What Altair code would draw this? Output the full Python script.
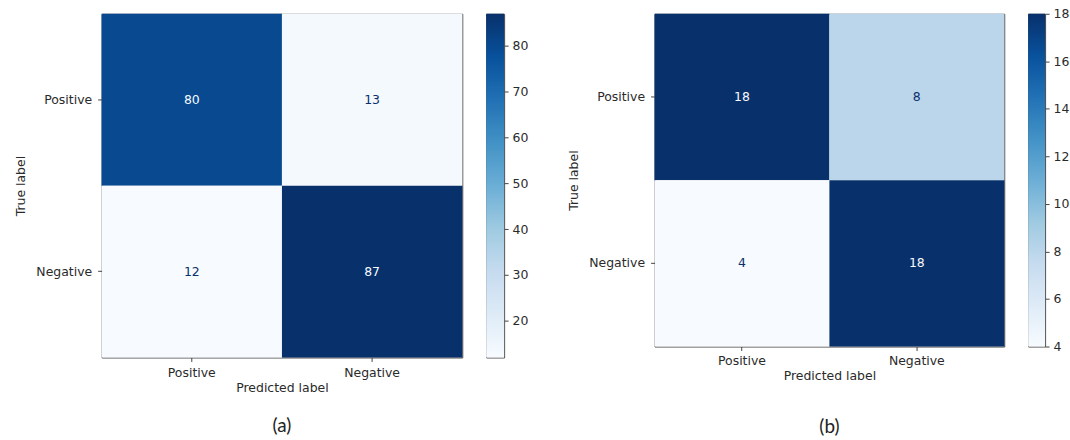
import altair as alt
import pandas as pd

classes = ["Positive", "Negative"]
cm_a = [[80, 13], [12, 87]]
cm_b = [[18, 8], [4, 18]]
cbar_a_ticks = [20, 30, 40, 50, 60, 70, 80]
cbar_b_ticks = [4, 6, 8, 10, 12, 14, 16, 18]
range_a = [12, 87]
range_b = [4, 18]
blues = ["#f7fbff", "#deebf7", "#c6dbef", "#9ecae1", "#6baed6",
         "#4292c6", "#2171b5", "#08519c", "#08306b"]

FONT = "DejaVu Sans"
FS = 12.5
TXT = "#2a2a2a"


def cm_frame(cm):
    rows = []
    for i, t in enumerate(classes):
        for j, p in enumerate(classes):
            rows.append({"true": t, "pred": p, "value": cm[i][j]})
    return pd.DataFrame(rows)


def stops(dom):
    n = len(blues) - 1
    return [dom[0] + (dom[1] - dom[0]) * i / n for i in range(n + 1)]


def heatmap(cm, dom, caption, w, h, cap_offset, xpad):
    df = cm_frame(cm)
    thr = (dom[0] + dom[1]) / 2
    base = alt.Chart(df).encode(
        x=alt.X("pred:N", sort=classes, scale=alt.Scale(paddingInner=0, paddingOuter=0),
                axis=alt.Axis(title="Predicted label", labelAngle=0, tickSize=4,
                              labelPadding=xpad, titlePadding=3, domain=False)),
        y=alt.Y("true:N", sort=classes, scale=alt.Scale(paddingInner=0, paddingOuter=0),
                axis=alt.Axis(title="True label", tickSize=4, labelPadding=6,
                              titlePadding=8, domain=False)),
    )
    rect = base.mark_rect().encode(
        color=alt.Color("value:Q", scale=alt.Scale(domain=stops(dom), range=blues,
                                                   interpolate="rgb"), legend=None)
    )
    text = base.mark_text(font=FONT, fontSize=FS).encode(
        text="value:Q",
        color=alt.condition(alt.datum.value > thr, alt.value("#f7fbff"), alt.value("#08306b")),
    )
    return alt.layer(rect, text).properties(
        width=w, height=h,
        title=alt.TitleParams(caption, orient="bottom", offset=cap_offset, fontSize=19,
                              font="Lato", fontWeight="normal", color="#222", frame="group",
                              anchor="middle"),
    )


def colorbar(dom, ticks, w, h):
    df = pd.DataFrame({"lo": [dom[0]], "hi": [dom[1]]})
    grad = alt.LinearGradient(
        gradient="linear",
        stops=[alt.GradientStop(offset=i / 8, color=c) for i, c in enumerate(blues)],
        x1=0, x2=0, y1=1, y2=0,
    )
    return alt.Chart(df).mark_rect(color=grad).encode(
        x=alt.value(0), x2=alt.value(w),
        y=alt.Y("lo:Q", scale=alt.Scale(domain=dom, nice=False, zero=False),
                axis=alt.Axis(orient="right", values=ticks, title=None, grid=False,
                              domain=False, tickSize=4, labelPadding=4)),
        y2="hi:Q",
    ).properties(width=w, height=h)


spacer = alt.Chart(pd.DataFrame({"v": [0]})).mark_point(opacity=0).encode(
    x=alt.value(0), y=alt.value(0)
).properties(width=103, height=10, view=alt.ViewBackground(stroke="transparent"))

chart = alt.hconcat(
    heatmap(cm_a, range_a, "(a)", 362, 345, 23, 5),
    colorbar(range_a, cbar_a_ticks, 18, 345),
    spacer,
    heatmap(cm_b, range_b, "(b)", 351, 334, 36, 4),
    colorbar(range_b, cbar_b_ticks, 17, 334),
    spacing=24,
    bounds="flush",
).resolve_scale(
    color="independent"
).properties(
    padding={"left": 14, "top": 6, "right": 0, "bottom": 0},
    background="white",
).configure_view(
    stroke="#444", strokeWidth=1
).configure_axis(
    labelFont=FONT, titleFont=FONT, labelFontSize=FS, titleFontSize=FS,
    labelColor=TXT, titleColor=TXT, titleFontWeight="normal", tickColor="#444",
)

chart.save("out.html", embed_options={"renderer": "svg", "actions": False})
